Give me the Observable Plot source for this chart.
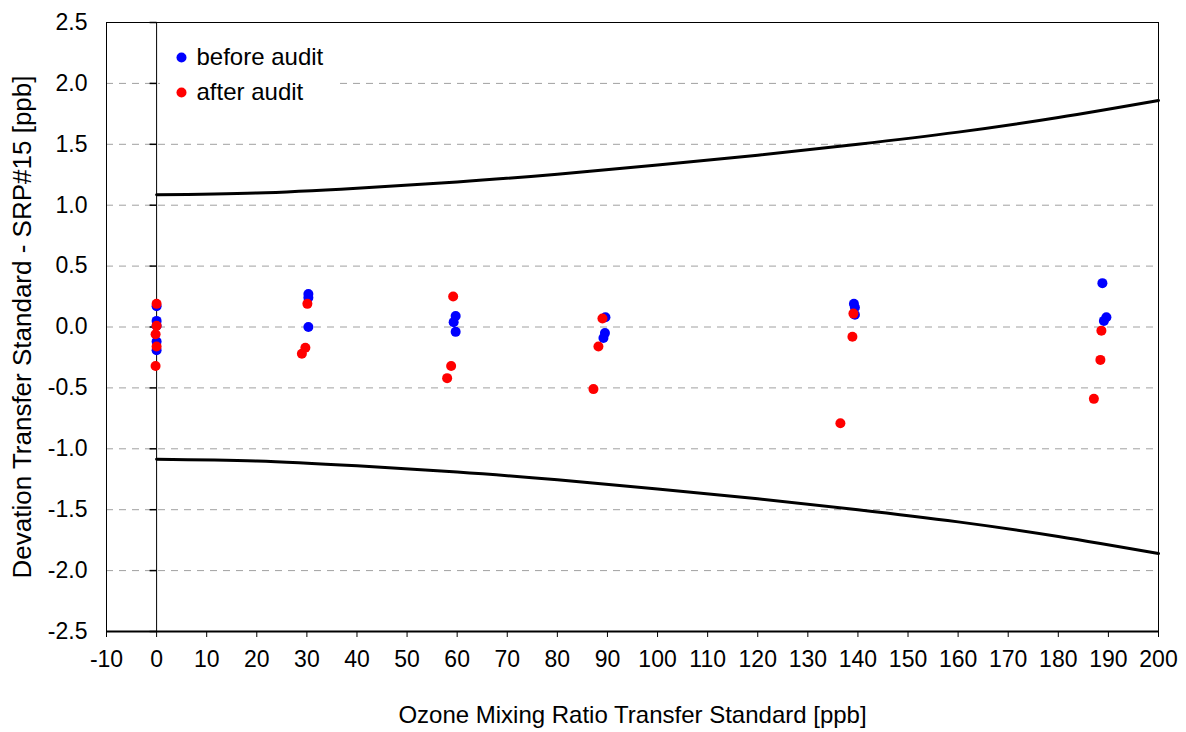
<!DOCTYPE html>
<html>
<head>
<meta charset="utf-8">
<script src="https://cdn.jsdelivr.net/npm/d3@7"></script>
<script src="https://cdn.jsdelivr.net/npm/@observablehq/plot@0.6"></script>
<style>
  html, body { margin: 0; padding: 0; background: #fff; }
</style>
</head>
<body>
<div id="chart"></div>
<script>
// ---- data ----
const xTicks = [-10, 0, 10, 20, 30, 40, 50, 60, 70, 80, 90, 100, 110, 120, 130, 140, 150, 160, 170, 180, 190, 200];
const yTicks = [-2.5, -2.0, -1.5, -1.0, -0.5, 0.0, 0.5, 1.0, 1.5, 2.0, 2.5];
const gridLevels = [-2.0, -1.5, -1.0, -0.5, 0.0, 0.5, 1.0, 1.5, 2.0];

const beforeAudit = [
  [0, 0.17], [0, 0.05], [0, 0.01], [0, -0.12], [0, -0.19],
  [30.3, 0.27], [30.3, 0.24], [30.3, 0.0],
  [59.7, 0.09], [59.3, 0.04], [59.7, -0.04],
  [89.6, 0.08], [89.5, -0.05], [89.2, -0.09],
  [139.2, 0.19], [139.4, 0.16], [139.4, 0.10],
  [188.8, 0.36], [189.6, 0.08], [189.1, 0.05]
];
const afterAudit = [
  [0, 0.19], [0, 0.01], [-0.2, -0.06], [0, -0.16], [-0.2, -0.32],
  [30.1, 0.19], [29.7, -0.17], [29.0, -0.22],
  [59.2, 0.25], [58.8, -0.32], [58.0, -0.42],
  [89.0, 0.07], [88.2, -0.16], [87.2, -0.51],
  [139.1, 0.11], [138.9, -0.08], [136.5, -0.79],
  [188.6, -0.03], [188.4, -0.27], [187.1, -0.59]
];

const limitX = [0, 20, 40, 60, 80, 100, 120, 140, 160, 180, 200];
const upperLimit = [1.085, 1.10, 1.14, 1.19, 1.255, 1.33, 1.41, 1.50, 1.60, 1.72, 1.86];
const lowerLimit = [-1.085, -1.10, -1.14, -1.19, -1.255, -1.33, -1.41, -1.50, -1.60, -1.72, -1.86];

const legendLabels = ["before audit", "after audit"];
const legendColors = ["#0000ff", "#ff0000"];

const xTitle = "Ozone Mixing Ratio Transfer Standard [ppb]";
const yTitle = "Devation Transfer Standard - SRP#15 [ppb]";

// ---- derived tables ----
const beforeRows = beforeAudit.map(([x, y]) => ({x, y}));
const afterRows = afterAudit.map(([x, y]) => ({x, y}));
const upperRows = limitX.map((x, i) => ({x, y: upperLimit[i]}));
const lowerRows = limitX.map((x, i) => ({x, y: lowerLimit[i]}));

const leftTick = {draw(ctx) { ctx.moveTo(-7, 0); ctx.lineTo(0, 0); }};

// white legend box
function legendBox(index, scales, values, dims) {
  const ns = "http://www.w3.org/2000/svg";
  const r = document.createElementNS(ns, "rect");
  r.setAttribute("x", dims.marginLeft + 54);
  r.setAttribute("y", dims.marginTop + 16);
  r.setAttribute("width", 174);
  r.setAttribute("height", 90);
  r.setAttribute("fill", "white");
  return r;
}

const legendMarks = legendLabels.flatMap((label, i) => [
  Plot.dot([label], {frameAnchor: "top-left", dx: 75, dy: 35 + i * 35, r: 5, fill: legendColors[i]}),
  Plot.text([label], {frameAnchor: "top-left", dx: 90, dy: 35 + i * 35, text: d => d, textAnchor: "start", lineAnchor: "middle", fontSize: 24, fill: "black"})
]);

const chart = Plot.plot({
  width: 1186,
  height: 732,
  marginLeft: 106,
  marginRight: 28,
  marginTop: 22,
  marginBottom: 101,
  style: {fontFamily: "'Liberation Sans', Arial, sans-serif", fontSize: "23px", color: "black", background: "white"},
  x: {domain: [-10, 200], ticks: xTicks, tickSize: 6, tickPadding: 13, tickFormat: d => String(d), label: null},
  y: {domain: [-2.5, 2.5], ticks: yTicks, tickSize: 0, tickPadding: 19, tickFormat: d => d.toFixed(1), label: null},
  marks: [
    Plot.ruleY(gridLevels, {stroke: "#a0a0a0", strokeWidth: 1, strokeDasharray: "7,6"}),
    legendBox,
    Plot.ruleX([0], {stroke: "black", strokeWidth: 1}),
    Plot.dot(yTicks, {x: () => 0, y: d => d, symbol: leftTick, stroke: "black", strokeWidth: 1.5, r: 4}),
    Plot.line(upperRows, {x: "x", y: "y", stroke: "black", strokeWidth: 3, curve: "natural"}),
    Plot.line(lowerRows, {x: "x", y: "y", stroke: "black", strokeWidth: 3, curve: "natural"}),
    Plot.frame({stroke: "black", strokeWidth: 1}),
    Plot.ruleY([-2.5], {stroke: "black", strokeWidth: 2}),
    Plot.dot(beforeRows, {x: "x", y: "y", r: 5, fill: "#0000ff"}),
    Plot.dot(afterRows, {x: "x", y: "y", r: 5, fill: "#ff0000"}),
    ...legendMarks,
    Plot.text([xTitle], {frameAnchor: "bottom", dy: 91, fontSize: 24, fill: "black"}),
    Plot.text([yTitle], {frameAnchor: "left", dx: -84, rotate: -90, textAnchor: "middle", fontSize: 26, fill: "black"})
  ]
});
document.getElementById("chart").appendChild(chart);
</script>
</body>
</html>
